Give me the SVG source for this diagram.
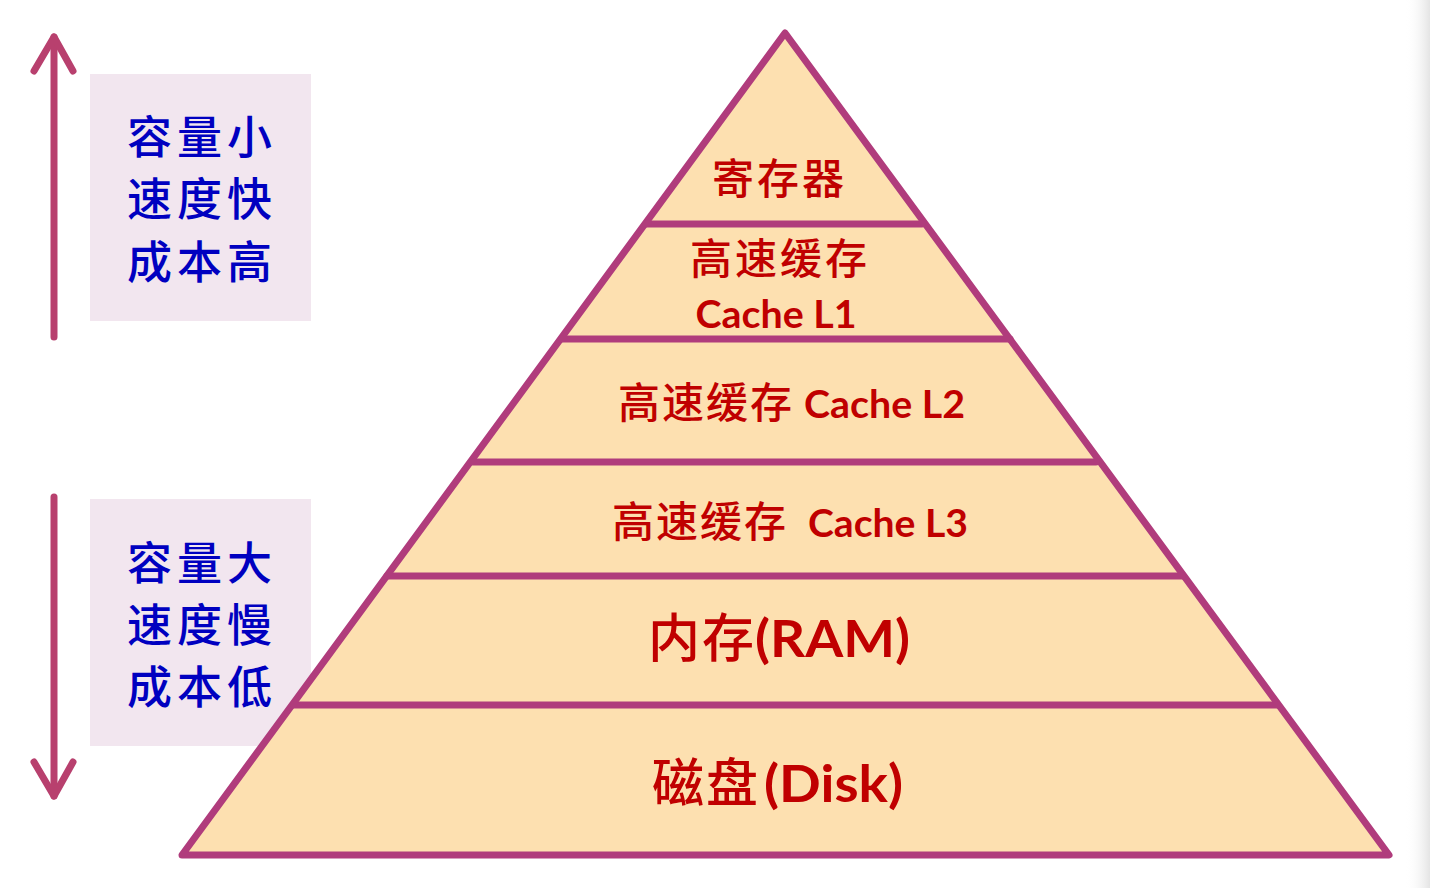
<svg xmlns="http://www.w3.org/2000/svg" width="1430" height="888" viewBox="0 0 1430 888">
<defs>
<linearGradient id="edge" x1="0" y1="0" x2="1" y2="0">
<stop offset="0" stop-color="#ffffff" stop-opacity="0"/>
<stop offset="1" stop-color="#e4e4e4"/>
</linearGradient>
<style>
.arrow{stroke:#B8406E;stroke-width:7;fill:none;stroke-linecap:round;stroke-linejoin:round}
.box{fill:#F2E6EF}
.blue{font-family:"Noto Sans CJK SC",sans-serif;font-size:45px;font-weight:500;fill:#0000C0;letter-spacing:5px}
.tier{stroke:#B03C7C;stroke-width:7;stroke-linecap:round}
.cn{font-family:"Noto Sans CJK SC",sans-serif;font-weight:500;fill:#C00000;text-anchor:start}
.en{font-family:Lato,"Open Sans",sans-serif;font-weight:bold;fill:#C00000}
</style>
</defs>
<rect width="1430" height="888" fill="#ffffff"/>
<rect x="1405" y="0" width="25" height="888" fill="url(#edge)"/>

<g id="legend-top">
<rect class="box" x="90" y="74" width="221" height="247"/>
<text class="blue" x="127" y="154">容量小</text>
<text class="blue" x="127" y="216">速度快</text>
<text class="blue" x="127" y="279">成本高</text>
</g>
<g id="legend-bottom">
<rect class="box" x="90" y="499" width="221" height="247"/>
<text class="blue" x="127" y="580">容量大</text>
<text class="blue" x="127" y="642">速度慢</text>
<text class="blue" x="127" y="704">成本低</text>
</g>

<g id="connectors">
<line class="arrow" x1="54" y1="337" x2="54" y2="37"/>
<polyline class="arrow" points="34,71 54,37 73,71"/>
<line class="arrow" x1="54" y1="497" x2="54" y2="796"/>
<polyline class="arrow" points="34,762 54,796 73,762"/>
</g>

<g id="pyramid">
<polygon points="785,33 1389,855 182,855" fill="#FDE0B0" stroke="#B03C7C" stroke-width="7" stroke-linejoin="round"/>
<line class="tier" x1="646" y1="224" x2="922" y2="224"/>
<line class="tier" x1="562" y1="339" x2="1010" y2="339"/>
<line class="tier" x1="473" y1="462" x2="1096" y2="462"/>
<line class="tier" x1="387" y1="576" x2="1182" y2="576"/>
<line class="tier" x1="294" y1="705" x2="1277" y2="705"/>
</g>

<g id="tier-register">
<text class="cn" x="712" y="194" font-size="42" letter-spacing="3">寄存器</text>
</g>
<g id="tier-l1">
<text class="cn" x="690" y="274" font-size="42" letter-spacing="3">高速缓存</text>
<text class="en" x="776" y="328" font-size="39" text-anchor="middle" textLength="161" lengthAdjust="spacingAndGlyphs">Cache L1</text>
</g>
<g id="tier-l2">
<text class="cn" x="618" y="418" font-size="42" letter-spacing="2">高速缓存</text>
<text class="en" x="804" y="418" font-size="39" textLength="161" lengthAdjust="spacingAndGlyphs">Cache L2</text>
</g>
<g id="tier-l3">
<text class="cn" x="612" y="537" font-size="42" letter-spacing="2">高速缓存</text>
<text class="en" x="808" y="537" font-size="39" textLength="160" lengthAdjust="spacingAndGlyphs">Cache L3</text>
</g>
<g id="tier-ram">
<text class="cn" x="648" y="657" font-size="52" letter-spacing="2">内存</text>
<text class="en" x="755" y="657" font-size="52" textLength="155" lengthAdjust="spacingAndGlyphs">(RAM)</text>
</g>
<g id="tier-disk">
<text class="cn" x="652" y="802" font-size="52" letter-spacing="2">磁盘</text>
<text class="en" x="764" y="802" font-size="52" textLength="139" lengthAdjust="spacingAndGlyphs">(Disk)</text>
</g>
</svg>
